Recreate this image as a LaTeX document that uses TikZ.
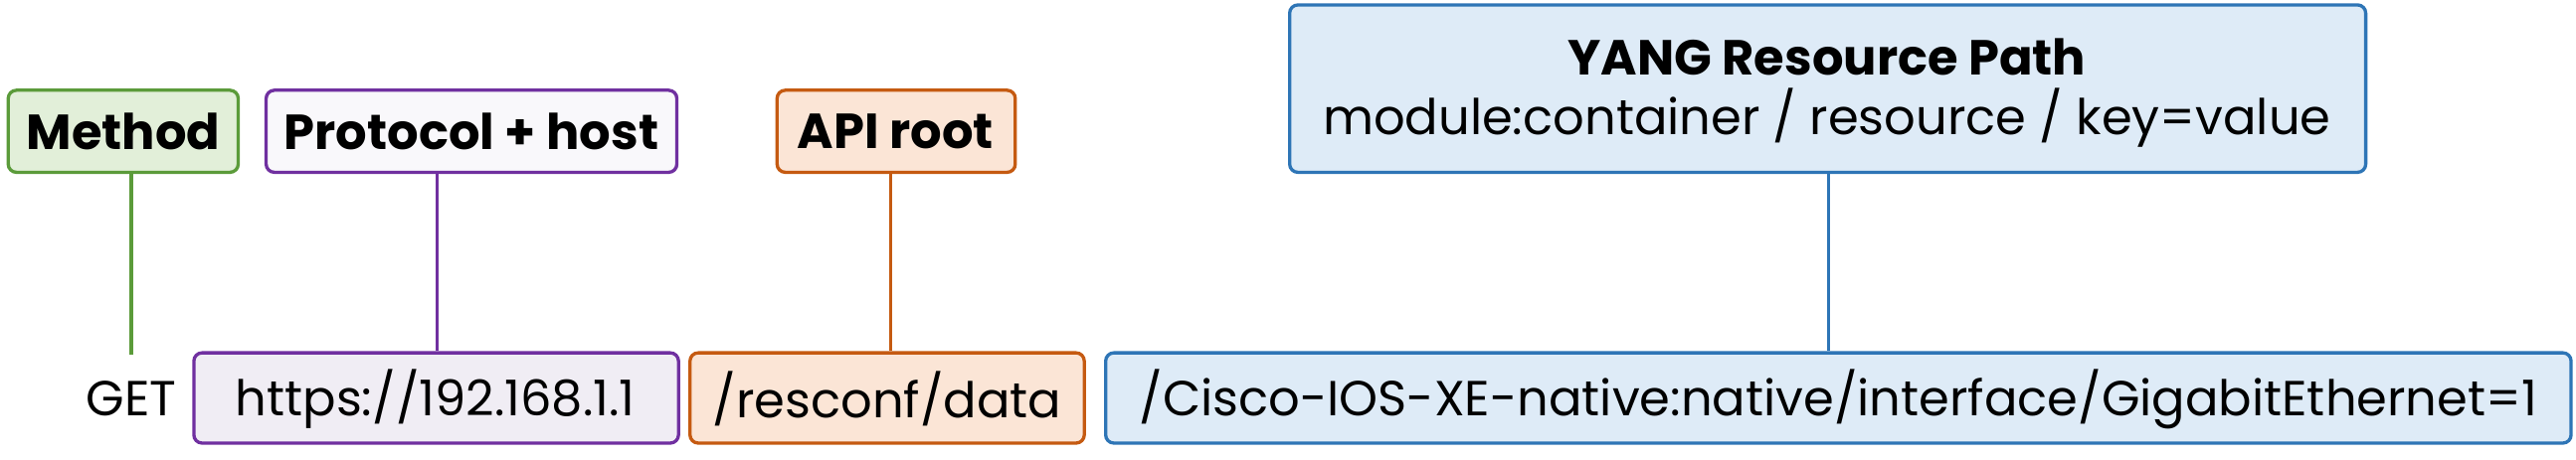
\documentclass[tikz,border=0pt]{standalone}
\usepackage{fontspec}
\setmainfont{Poppins}
\definecolor{gB}{HTML}{5B9B3A}\definecolor{gF}{HTML}{E2EFD9}
\definecolor{pB}{HTML}{7030A0}\definecolor{pF}{HTML}{F0EDF4}
\definecolor{oB}{HTML}{C55A11}\definecolor{oF}{HTML}{FBE5D6}
\definecolor{bB}{HTML}{2E75B6}\definecolor{bF}{HTML}{DEEBF7}
\begin{document}
\begin{tikzpicture}[x=1pt,y=-1pt,
 box/.style={rounded corners=5pt,line width=2pt},
 txt/.style={font=\fontsize{30}{36}\selectfont,inner sep=0},
 lbl/.style={font=\bfseries\fontsize{30}{36}\selectfont,inner sep=0},
 ln/.style={line width=2pt}]
\useasboundingbox (0,0) rectangle (1568,280);
% top boxes
\draw[box,draw=gB,fill=gF] (5,55) rectangle (145,105);
\node[lbl] (m) at (75,80) {Method};
\draw[box,draw=pB,fill=pF!40!white] (162,55) rectangle (412,105);
\node[lbl] (p) at (287,80) {Protocol + host};
\draw[box,draw=oB,fill=oF] (473,55) rectangle (618,105);
\node[lbl] (a) at (545,80) {API root};
\draw[box,draw=bB,fill=bF] (785,3) rectangle (1440,105);
\node[lbl] (y) at (1112,35) {YANG Resource Path};
\node[txt] (y2) at (1112,72) {module:container / resource / key=value};
% bottom
\node[txt] (g) at (80,243) {GET};
\draw[box,draw=pB,fill=pF] (118,215) rectangle (413,270);
\node[txt] (h) at (265,243) {https://192.168.1.1};
\draw[box,draw=oB,fill=oF] (420,215) rectangle (660,270);
\node[txt] (r) at (540,243) {/resconf/data};
\draw[box,draw=bB,fill=bF] (673,215) rectangle (1565,270);
\node[txt] (c) at (1119,243) {/Cisco-IOS-XE-native:native/interface/GigabitEthernet=1};
% connectors
\coordinate (m0) at (80,106); \coordinate (m1) at (80,216);
\coordinate (p0) at (266,106); \coordinate (p1) at (266,214);
\coordinate (a0) at (542,106); \coordinate (a1) at (542,214);
\coordinate (y0) at (1113,106); \coordinate (y1) at (1113,214);
\draw[ln,gB] (m0) -- (m1);
\draw[ln,pB] (p0) -- (p1);
\draw[ln,oB] (a0) -- (a1);
\draw[ln,bB] (y0) -- (y1);
\end{tikzpicture}
\end{document}
